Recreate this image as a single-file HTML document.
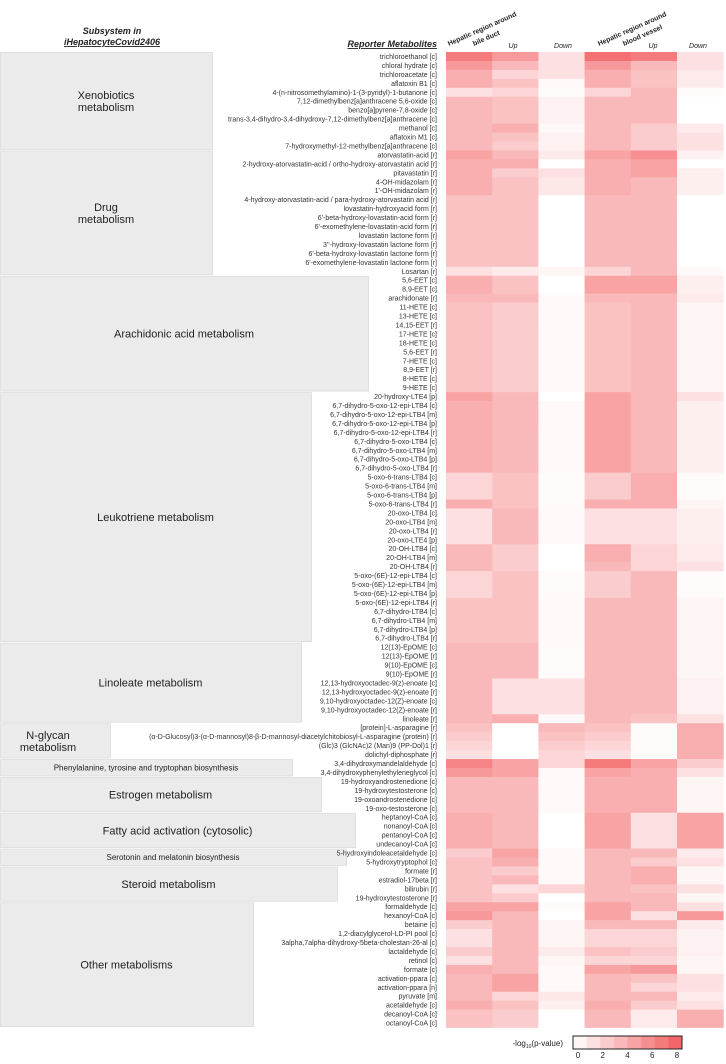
<!DOCTYPE html>
<html><head><meta charset="utf-8"><style>
body{margin:0;background:#fff;width:726px;height:1059px;overflow:hidden;font-family:"Liberation Sans","DejaVu Sans",sans-serif}
</style></head><body>
<svg id="chart" width="726" height="1059" xmlns="http://www.w3.org/2000/svg" font-family="Liberation Sans, DejaVu Sans, sans-serif">
<g font-weight="bold" font-style="italic" font-size="9" fill="#222" text-anchor="middle">
<text x="112" y="34">Subsystem in</text>
<text x="112" y="45" text-decoration="underline">iHepatocyteCovid2406</text>
</g>
<text x="437" y="47" text-anchor="end" font-weight="bold" font-style="italic" font-size="9" fill="#222" text-decoration="underline">Reporter Metabolites</text>
<g font-size="7" fill="#222">
<text transform="translate(449,46) rotate(-24)" font-weight="bold">Hepatic region around</text>
<text transform="translate(474,46) rotate(-24)" font-weight="bold">bile duct</text>
<text x="513" y="48" font-style="italic" text-anchor="middle">Up</text>
<text x="563" y="48" font-style="italic" text-anchor="middle">Down</text>
<text transform="translate(599,46) rotate(-24)" font-weight="bold">Hepatic region around</text>
<text transform="translate(624,46) rotate(-24)" font-weight="bold">blood vessel</text>
<text x="653" y="48" font-style="italic" text-anchor="middle">Up</text>
<text x="698" y="48" font-style="italic" text-anchor="middle">Down</text>
</g>
<g id="boxes"></g><g id="labels"></g><g id="cells"></g>
<g>
<text x="563" y="1046" text-anchor="end" font-size="8" fill="#222">-log<tspan font-size="5" dy="2">10</tspan><tspan dy="-2">(p-value)</tspan></text>
<g id="legend"></g>
</g>
</svg>
<script>
const metabolites = ["trichloroethanol [c]","chloral hydrate [c]","trichloroacetate [c]","aflatoxin B1 [c]","4-(n-nitrosomethylamino)-1-(3-pyridyl)-1-butanone [c]","7,12-dimethylbenz[a]anthracene 5,6-oxide [c]","benzo[a]pyrene-7,8-oxide [c]","trans-3,4-dihydro-3,4-dihydroxy-7,12-dimethylbenz[a]anthracene [c]","methanol [c]","aflatoxin M1 [c]","7-hydroxymethyl-12-methylbenz[a]anthracene [c]",
"atorvastatin-acid [r]","2-hydroxy-atorvastatin-acid / ortho-hydroxy-atorvastatin acid [r]","pitavastatin [r]","4-OH-midazolam [r]","1'-OH-midazolam [r]","4-hydroxy-atorvastatin-acid / para-hydroxy-atorvastatin acid [r]","lovastatin-hydroxyacid form [r]","6'-beta-hydroxy-lovastatin-acid form [r]","6'-exomethylene-lovastatin-acid form [r]","lovastatin lactone form [r]","3''-hydroxy-lovastatin lactone form [r]","6'-beta-hydroxy-lovastatin lactone form [r]","6'-exomethylene-lovastatin lactone form [r]","Losartan [r]",
"5,6-EET [c]","8,9-EET [c]","arachidonate [r]","11-HETE [c]","13-HETE [c]","14,15-EET [r]","17-HETE [c]","18-HETE [c]","5,6-EET [r]","7-HETE [c]","8,9-EET [r]","8-HETE [c]","9-HETE [c]",
"20-hydroxy-LTE4 [p]","6,7-dihydro-5-oxo-12-epi-LTB4 [c]","6,7-dihydro-5-oxo-12-epi-LTB4 [m]","6,7-dihydro-5-oxo-12-epi-LTB4 [p]","6,7-dihydro-5-oxo-12-epi-LTB4 [r]","6,7-dihydro-5-oxo-LTB4 [c]","6,7-dihydro-5-oxo-LTB4 [m]","6,7-dihydro-5-oxo-LTB4 [p]","6,7-dihydro-5-oxo-LTB4 [r]","5-oxo-6-trans-LTB4 [c]","5-oxo-6-trans-LTB4 [m]","5-oxo-6-trans-LTB4 [p]","5-oxo-6-trans-LTB4 [r]","20-oxo-LTB4 [c]","20-oxo-LTB4 [m]","20-oxo-LTB4 [r]","20-oxo-LTE4 [p]","20-OH-LTB4 [c]","20-OH-LTB4 [m]","20-OH-LTB4 [r]","5-oxo-(6E)-12-epi-LTB4 [c]","5-oxo-(6E)-12-epi-LTB4 [m]","5-oxo-(6E)-12-epi-LTB4 [p]","5-oxo-(6E)-12-epi-LTB4 [r]","6,7-dihydro-LTB4 [c]","6,7-dihydro-LTB4 [m]","6,7-dihydro-LTB4 [p]","6,7-dihydro-LTB4 [r]",
"12(13)-EpOME [c]","12(13)-EpOME [r]","9(10)-EpOME [c]","9(10)-EpOME [r]","12,13-hydroxyoctadec-9(z)-enoate [c]","12,13-hydroxyoctadec-9(z)-enoate [r]","9,10-hydroxyoctadec-12(Z)-enoate [c]","9,10-hydroxyoctadec-12(Z)-enoate [r]","linoleate [r]",
"[protein]-L-asparagine [r]","(α-D-Glucosyl)3-(α-D-mannosyl)8-β-D-mannosyl-diacetylchitobiosyl-L-asparagine (protein) [r]","(Glc)3 (GlcNAc)2 (Man)9 (PP-Dol)1 [r]","dolichyl-diphosphate [r]",
"3,4-dihydroxymandelaldehyde [c]","3,4-dihydroxyphenylethyleneglycol [c]",
"19-hydroxyandrostenedione [c]","19-hydroxytestosterone [c]","19-oxoandrostenedione [c]","19-oxo-testosterone [c]",
"heptanoyl-CoA [c]","nonanoyl-CoA [c]","pentanoyl-CoA [c]","undecanoyl-CoA [c]",
"5-hydroxyindoleacetaldehyde [c]","5-hydroxytryptophol [c]",
"formate [r]","estradiol-17beta [r]","bilirubin [r]","19-hydroxytestosterone [r]",
"formaldehyde [c]","hexanoyl-CoA [c]","betaine [c]","1,2-diacylglycerol-LD-PI pool [c]","3alpha,7alpha-dihydroxy-5beta-cholestan-26-al [c]","lactaldehyde [c]","retinol [c]","formate [c]","activation-ppara [c]","activation-ppara [n]","pyruvate [m]","acetaldehyde [c]","decanoyl-CoA [c]","octanoyl-CoA [c]"];
const subsystems = ["Xenobiotics metabolism","Drug metabolism","Arachidonic acid metabolism","Leukotriene metabolism","Linoleate metabolism","N-glycan metabolism","Phenylalanine, tyrosine and tryptophan biosynthesis","Estrogen metabolism","Fatty acid activation (cytosolic)","Serotonin and melatonin biosynthesis","Steroid metabolism","Other metabolisms"];
const subsystemSizes = [11,14,13,28,9,4,2,4,4,2,4,14];
const columns = ["bile-duct","bile-duct-up","bile-duct-down","blood-vessel","blood-vessel-up","blood-vessel-down"];
const legendTicks = [0,2,4,6,8];
const values = [
[6.5,5,1.5,7,6.5,1.5],[5,3.5,1.5,5,3.5,1.5],[4,2,1.5,4,3,1],[4,3,0.3,4,3,1],[1.5,2,0.2,2,3.5,0.2],[3.5,3,0.7,3.5,3.5,0],[3.5,3,0.7,3.5,3.5,0],[3.5,3,0.7,3.5,3.5,0],[3.5,4,0.3,3.5,2.5,1],[3.5,3,0.7,3.5,2.5,1.5],[3.5,2.5,0.7,3.5,2.5,1.5],
[4.5,3.5,1,4.5,5.5,0.7],[4,4,0,4,4.5,0],[4,2.5,1.5,4,4.5,0.8],[4,3,1.2,4,3.5,0.8],[4,3,1.2,4,3.5,0.8],[3,3,0,3.5,3.5,0],[3,3,0,3.5,3.5,0],[3,3,0,3.5,3.5,0],[3,3,0,3.5,3.5,0],[3,3,0,3.5,3.5,0],[3,3,0,3.5,3.5,0],[3,3,0,3.5,3.5,0],[3,3,0,3.5,3.5,0],[1.5,1,0.5,2,3.5,0.3],
[4,3,0,4.5,4.5,0.8],[4,3,0,4.5,4.5,0.8],[3.5,3.5,0.3,3.5,3.5,1],[3,2.5,0.3,3,3.5,0.5],[3,2.5,0.3,3,3.5,0.5],[3,2.5,0.3,3,3.5,0.5],[3,2.5,0.3,3,3.5,0.5],[3,2.5,0.3,3,3.5,0.5],[3,2.5,0.3,3,3.5,0.5],[3,2.5,0.3,3,3.5,0.5],[3,2.5,0.3,3,3.5,0.5],[3,2.5,0.3,3,3.5,0.5],[3,2.5,0.3,3,3.5,0.5],
[4.5,3.5,0,4.5,3.5,1.5],[4,3.5,0.3,4.5,3.5,0.8],[4,3.5,0.3,4.5,3.5,0.8],[4,3.5,0.3,4.5,3.5,0.8],[4,3.5,0.3,4.5,3.5,0.8],[4,3.5,0.3,4.5,3.5,0.8],[4,3.5,0.3,4.5,3.5,0.8],[4,3.5,0.3,4.5,3.5,0.8],[4,3.5,0.3,4.5,3.5,0.8],[2,3,0.2,2.5,4,0.2],[2,3,0.2,2.5,4,0.2],[2,3,0.2,2.5,4,0.2],[4,3,0.2,4,4,0.5],[1.5,3.5,0.3,1.5,1.5,0.8],[1.5,3.5,0.3,1.5,1.5,0.8],[1.5,3.5,0.3,1.5,1.5,0.8],[1.5,3.5,0.3,1.5,1.5,0.8],[3.5,2.5,0,4,2,1],[3.5,2.5,0,4,2,1],[3.5,2.5,0,3.5,2,1.5],[2,3,0.2,2.5,3.5,0.2],[2,3,0.2,2.5,3.5,0.2],[2,3,0.2,2.5,3.5,0.2],[3,3,0.3,3.5,3.5,0.5],[3,3,0.3,3.5,3.5,0.5],[3,3,0.3,3.5,3.5,0.5],[3,3,0.3,3.5,3.5,0.5],[3,3,0.3,3.5,3.5,0.5],
[3.5,3.5,0.2,3.5,3.5,0.5],[3.5,3.5,0.2,3.5,3.5,0.5],[3.5,3.5,0.2,3.5,3.5,0.5],[3.5,3.5,0.2,3.5,3.5,0.5],[3.5,1.5,1.5,3.5,3.5,0.7],[3.5,1.5,1.5,3.5,3.5,0.7],[3.5,1.5,1.5,3.5,3.5,0.7],[3.5,1.5,1.5,3.5,3.5,0.7],[3.5,4,0.3,3.5,3,1.5],
[3,0,3.5,3,0.2,4],[2.5,0,3,2.5,0.2,4],[2,0,2.5,2,0.2,4],[1.5,0,2,1.5,0.2,4],
[6,4.5,2,6.5,4.5,2.5],[5,4.5,0.3,4.5,4,1.5],
[3.5,3.5,0.3,4,4,0.5],[3.5,3.5,0.3,4,4,0.5],[3.5,3.5,0.3,4,4,0.5],[3.5,3.5,0.3,4,4,0.5],
[4,3.5,0,4.5,1.5,4.5],[4,3.5,0,4.5,1.5,4.5],[4,3.5,0,4.5,1.5,4.5],[4,3.5,0,4.5,1.5,4.5],
[2.5,4.5,0.3,3.5,3.5,1],[3,4,0.3,3.5,2.5,1.5],
[3,2.5,0.3,3.5,4,0.5],[3,3.5,0.3,3.5,4,0.5],[3,1.5,2,3.5,3,1.5],[3,2.5,0,3.5,3.5,0.5],
[4.5,4.5,0.2,4.5,3.5,1.5],[5,3.5,0,4.5,1.5,5],[2.5,3.5,0.5,3.5,3.5,1],[1.5,3.5,0.5,2,2,0.7],[1.5,3.5,0.5,2,2,0.7],[2.5,3.5,1,3,2.5,0.7],[1.5,3.5,0.5,2,2,0.5],[4,3.5,0.3,4.5,5,0.5],[3.5,4.5,0.3,3.5,3,1.5],[3.5,4.5,0.3,3.5,2,1.5],[3.5,2,1.2,3.5,3.5,1],[4,3,0.8,4,2.5,1.5],[3,2.5,0,3.5,1,4],[3,2.5,0,3.5,1,4]];
const boxWidths=[212,212,368,311,301,110,292,321,355,346,337,253];
const NS="http://www.w3.org/2000/svg";
const top0=52, rowH=8.95, colX0=446, colW=46.2;
const yPos=i=>top0+i*rowH, xPos=j=>colX0+j*colW;
function color(v){const t=Math.max(0,Math.min(1,v/8));return `rgb(${Math.round(255-13*t)},${Math.round(255-163*t)},${Math.round(255-161*t)})`;}
function mk(tag,attrs,parent){const e=document.createElementNS(NS,tag);for(const k in attrs)e.setAttribute(k,attrs[k]);parent.appendChild(e);return e;}
const cells=document.getElementById('cells'),labels=document.getElementById('labels'),boxes=document.getElementById('boxes');
values.forEach((row,i)=>{
  const t=mk('text',{x:437,y:yPos(i)+rowH-2,'text-anchor':'end','font-size':'7',fill:'#333'},labels);
  t.textContent=metabolites[i];
  
  
  row.forEach((v,j)=>{
    const r=mk('rect',{x:xPos(j),y:yPos(i),width:colW+0.5,height:rowH+0.3,fill:color(v)},cells);
    
    
  });
});
let start=0;
subsystems.forEach((s,k)=>{
  const n=subsystemSizes[k];const y0=yPos(start)+0.5,y1=yPos(start+n)-1;
  const r=mk('rect',{x:0.5,y:y0,width:boxWidths[k],height:y1-y0,fill:'#ebebeb',stroke:'#d8d8d8','stroke-width':0.7},boxes);
  
  
  const cy=(y0+y1)/2;
  let fs=11; if(k==6||k==9) fs=8;
  if(k==0||k==1||k==5){
    const parts=s.split(' ');
    const cx=k==5?48:106;
    const a=mk('text',{x:cx,y:cy-2,'text-anchor':'middle','font-size':fs,fill:'#222'},boxes);a.textContent=parts[0];
    
    
    const b=mk('text',{x:cx,y:cy+10,'text-anchor':'middle','font-size':fs,fill:'#222'},boxes);b.textContent=parts[1];
    
    
  } else {
    const a=mk('text',{x:boxWidths[k]/2,y:cy+fs*0.35,'text-anchor':'middle','font-size':fs,fill:'#222'},boxes);a.textContent=s;
    
    
  }
  start+=n;
});
const lg=document.getElementById('legend');
const lx0=573,lw=109;
for(let b=0;b<8;b++){
  const r=mk('rect',{x:lx0+b*lw/8,y:1036,width:lw/8+0.3,height:13,fill:color(b+0.5)},lg);
  
  
}
mk('rect',{x:lx0,y:1036,width:lw,height:13,fill:'none',stroke:'#222','stroke-width':1},lg);
legendTicks.forEach(v=>{
  const t=mk('text',{x:lx0+5+v/8*(lw-10),y:1058,'text-anchor':'middle','font-size':8,fill:'#222'},lg);
  t.textContent=v;
  
  
});
</script>
</body></html>
